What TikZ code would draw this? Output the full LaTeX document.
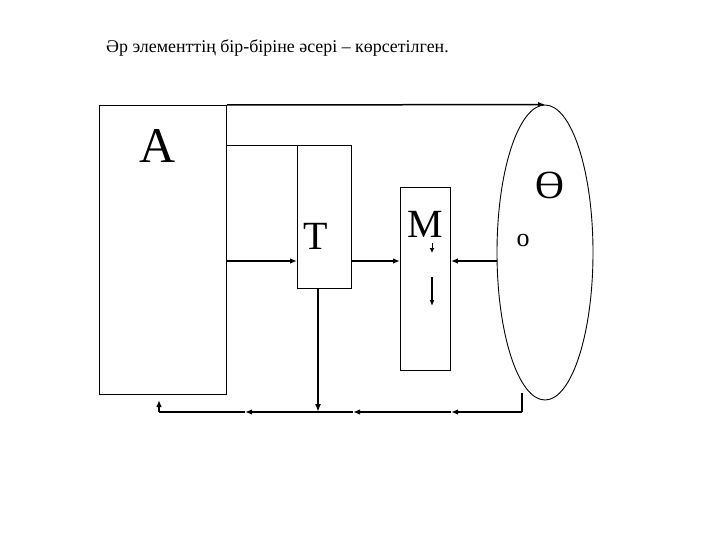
\documentclass[tikz,border=0pt]{standalone}
\usepackage{fontspec}
\setmainfont{Liberation Serif}
\usetikzlibrary{shapes.geometric,arrows.meta}
\tikzset{
  box/.style={draw,line width=0.9pt,inner sep=0pt,anchor=north west},
  lbl/.style={inner sep=0pt},
  arr/.style={line width=1.5pt,-{Latex[length=7pt,width=5.5pt]}},
  plain/.style={line width=1.5pt},
}
\begin{document}
\begin{tikzpicture}[x=1pt,y=-1pt]
\useasboundingbox (0,0) rectangle (720,540);
\node[lbl,anchor=west,font=\fontsize{17.9}{20}\selectfont] (title) at (106,48) {Әр элементтің бір-біріне әсері – көрсетілген.};
% boxes
\node[box,minimum width=127pt,minimum height=289pt] (A) at (99,105) {};
\node[box,minimum width=54pt,minimum height=143pt] (T) at (297,145) {};
\node[box,minimum width=50pt,minimum height=183pt] (M) at (400,187) {};
\node[draw,ellipse,line width=0.9pt,inner sep=0pt,minimum width=96pt,minimum height=295pt] (E) at (545,252.5) {};
% labels
\node[lbl,font=\fontsize{50}{50}\selectfont] (la) at (158,146) {A};
\node[lbl,font=\fontsize{40}{40}\selectfont] (lt) at (316,236) {T};
\node[lbl,font=\fontsize{40}{40}\selectfont] (lm) at (425,224) {M};
\node[lbl,font=\fontsize{40}{40}\selectfont] (le) at (550,185) {Ө};
\node[lbl,font=\fontsize{26}{26}\selectfont] (lo) at (523,241) {о};
% helper coordinates
\coordinate (r) at (0,261);
\coordinate (b) at (0,412);
\coordinate (t0) at (318,288);
\coordinate (t1) at (318,412);
\coordinate (c0) at (522,393);
\coordinate (c1) at (522,412);
\coordinate (c2) at (451,412);
\coordinate (c3) at (353,412);
\coordinate (c4) at (245,412);
\coordinate (c5) at (159,412);
\coordinate (c6) at (159,400);
\coordinate (m1) at (432,243);
\coordinate (m2) at (432,253);
\coordinate (m3) at (432,277);
\coordinate (m4) at (432,306);
% connectors
\draw[arr] (A.north east) -- (E.north);
\draw[line width=0.9pt] (A.east |- T.north west) -- (T.north west);
\draw[arr] (A.east |- r) -- (T.west |- r);
\draw[arr] (T.east |- r) -- (M.west |- r);
\draw[arr] (E.west |- r) -- (M.east |- r);
\draw[line width=2pt,-{Latex[length=8pt,width=6pt]}] (t0) -- (t1);
\draw[line width=2pt] (c0) -- (c1);
\draw[line width=2pt,-{Latex[length=7pt,width=5.5pt]}] (c1) -- (c2);
\draw[arr] (c2) -- (c3);
\draw[arr] (c3) -- (c4);
\draw[plain] (c4) -- (c5);
\draw[arr] (c5) -- (c6);
\draw[line width=1pt,-{Latex[length=5pt,width=5pt]}] (m1) -- (m2);
\draw[line width=1.5pt,-{Latex[length=6pt,width=5pt]}] (m3) -- (m4);
\end{tikzpicture}
\end{document}
